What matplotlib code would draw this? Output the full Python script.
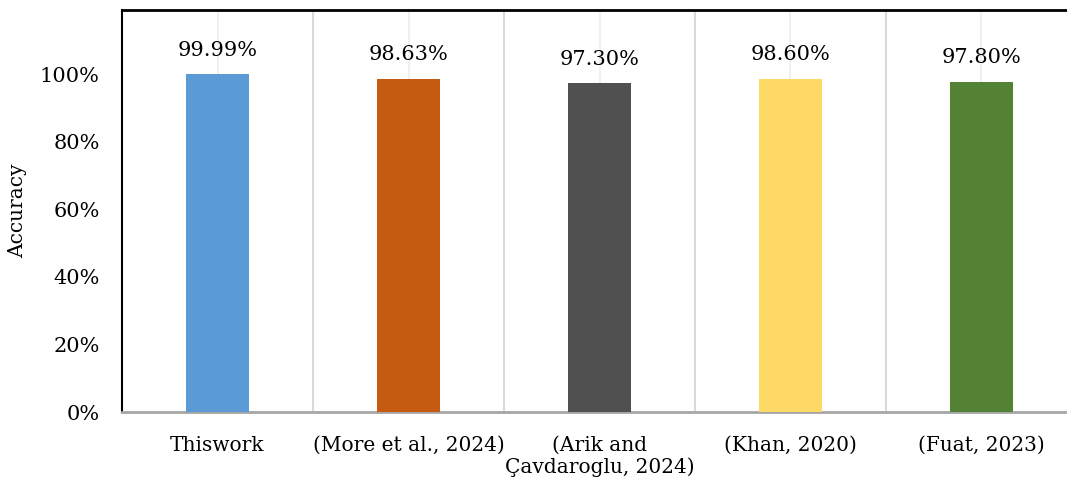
import numpy as np
import matplotlib.pyplot as plt

categories = ["Thiswork", "(More et al., 2024)", "(Arik and\nÇavdaroglu, 2024)", "(Khan, 2020)", "(Fuat, 2023)"]
accuracy = [0.9999, 0.9863, 0.9730, 0.9860, 0.9780]
labels = ["99.99%", "98.63%", "97.30%", "98.60%", "97.80%"]
colors = ['#5B9BD5', '#C55A11', '#505050', '#FFD966', '#548235']

plt.rcParams['font.family'] = 'DejaVu Serif'

fig = plt.figure(figsize=(10.67, 4.86), dpi=100)
ax = fig.add_axes([122/1067, 74/486, 955/1067, 402/486])

x = np.arange(len(categories))
ax.bar(x, accuracy, width=0.335, color=colors, zorder=3)
for xi, v, t in zip(x, accuracy, labels):
    ax.text(xi, v + 0.043, t, ha='center', va='bottom', fontsize=15, zorder=4)

ax.set_xlim(-0.5, 4.5)
ax.set_ylim(0, 1.19)
ax.set_yticks([0, 0.2, 0.4, 0.6, 0.8, 1.0])
ax.set_yticklabels(["0%", "20%", "40%", "60%", "80%", "100%"], fontsize=15)
ax.set_xticks(x)
ax.set_xticklabels(categories, fontsize=14.5, linespacing=1.15)
ax.set_xticks(np.arange(0.5, 4.5, 1), minor=True)
ax.tick_params(axis='both', which='both', length=0)
ax.tick_params(axis='x', pad=17)
ax.tick_params(axis='y', pad=16)
ax.grid(axis='x', which='major', color='#f0f0f0', lw=1.5, zorder=0)
ax.grid(axis='x', which='minor', color='#d9d9d9', lw=1.5, zorder=0)

ax.spines['right'].set_visible(False)
ax.spines['left'].set_color('black')
ax.spines['left'].set_linewidth(1.5)
ax.spines['top'].set_color('black')
ax.spines['top'].set_linewidth(2)
ax.spines['bottom'].set_color('#a6a6a6')
ax.spines['bottom'].set_linewidth(2)

ax.set_ylabel("Accuracy", fontsize=14.5)
ax.yaxis.set_label_coords(-95/955, 0.5)

fig.savefig('out.png', dpi=100)
